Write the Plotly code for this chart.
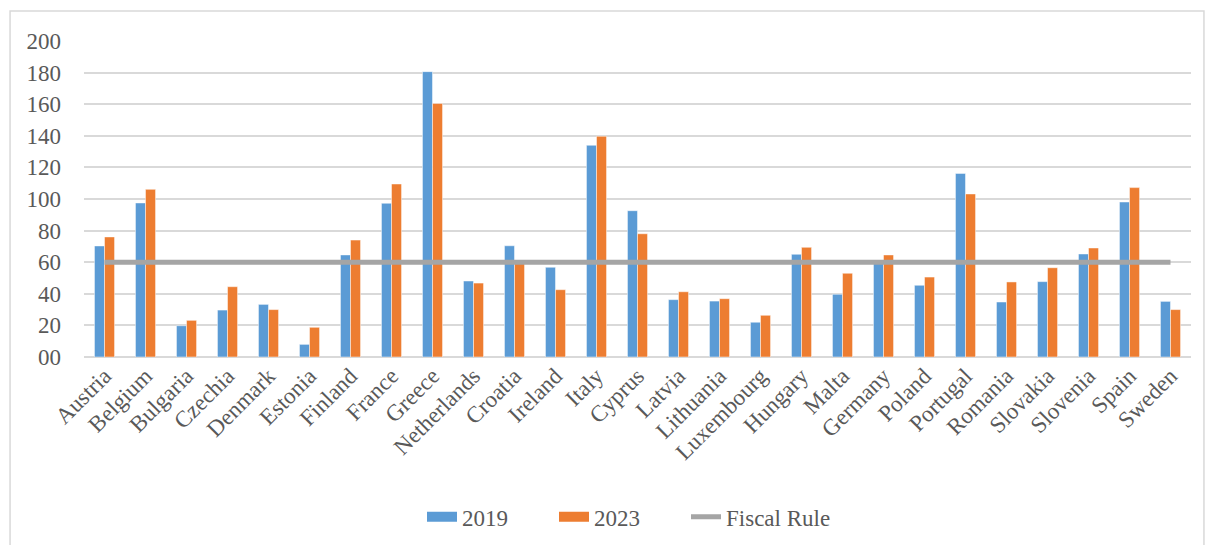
import plotly.graph_objects as go

countries = ["Austria", "Belgium", "Bulgaria", "Czechia", "Denmark", "Estonia", "Finland",
             "France", "Greece", "Netherlands", "Croatia", "Ireland", "Italy", "Cyprus",
             "Latvia", "Lithuania", "Luxembourg", "Hungary", "Malta", "Germany", "Poland",
             "Portugal", "Romania", "Slovakia", "Slovenia", "Spain", "Sweden"]
debt_2019 = [70.3, 97.5, 19.8, 29.7, 33.3, 8.0, 64.6, 97.3, 180.6, 48.1, 70.4, 56.8, 134.0,
             92.6, 36.3, 35.4, 22.0, 65.0, 39.7, 59.6, 45.4, 116.2, 34.8, 47.7, 65.2, 98.1, 35.2]
debt_2023 = [76.0, 106.1, 23.2, 44.5, 30.0, 18.8, 74.0, 109.5, 160.5, 46.8, 61.0, 42.6, 139.7,
             78.0, 41.3, 36.9, 26.4, 69.4, 53.0, 64.6, 50.6, 103.2, 47.5, 56.5, 69.0, 107.2, 30.0]
fiscal_rule = [60] * len(countries)
y_ticks = [0, 20, 40, 60, 80, 100, 120, 140, 160, 180, 200]
y_tick_labels = ["00", "20", "40", "60", "80", "100", "120", "140", "160", "180", "200"]

FONT = "Liberation Serif"
TXT = "#595959"
BLUE, ORANGE, GRAY = "#5B9BD5", "#ED7D31", "#A5A5A5"

fig = go.Figure()
fig.add_trace(go.Bar(x=countries, y=debt_2019, name="2019", marker_color=BLUE,
                     showlegend=False,
                     marker_line=dict(color="rgba(255,255,255,0.6)", width=0.8)))
fig.add_trace(go.Bar(x=countries, y=debt_2023, name="2023", marker_color=ORANGE,
                     showlegend=False,
                     marker_line=dict(color="rgba(255,255,255,0.6)", width=0.8)))
fig.add_trace(go.Scatter(x=countries, y=fiscal_rule, name="Fiscal Rule", mode="lines",
                         showlegend=False, line=dict(color=GRAY, width=5)))
# legend entries (wide swatches like the original), one legend each for exact spacing
fig.add_trace(go.Scatter(x=[None], y=[None], name="2019", mode="lines",
                         line=dict(color=BLUE, width=11), legend="legend"))
fig.add_trace(go.Scatter(x=[None], y=[None], name="2023", mode="lines",
                         line=dict(color=ORANGE, width=11), legend="legend2"))
fig.add_trace(go.Scatter(x=[None], y=[None], name="Fiscal Rule", mode="lines",
                         line=dict(color=GRAY, width=5), legend="legend3"))

def leg(px):
    return dict(orientation="h", x=(px - 84) / 1107, xanchor="left", y=-0.506,
                yanchor="middle", font=dict(family=FONT, size=23, color=TXT),
                bgcolor="rgba(0,0,0,0)")

fig.update_layout(
    width=1206, height=545,
    margin=dict(l=84, r=15, t=41, b=188, autoexpand=False),
    paper_bgcolor="white", plot_bgcolor="white",
    barmode="group", bargap=0.51, bargroupgap=0,
    font=dict(family=FONT, size=23, color=TXT),
    showlegend=True,
    legend=leg(422), legend2=leg(554), legend3=leg(686),
    shapes=[dict(type="rect", xref="paper", yref="paper", x0=-0.0668, x1=1.0117,
                 y0=-0.62, y1=1.095, line=dict(color="#D9D9D9", width=1.5),
                 fillcolor="rgba(0,0,0,0)", layer="below")],
)
fig.update_xaxes(tickangle=-45, showgrid=False, showline=False, ticks="",
                 tickfont=dict(family=FONT, size=23, color=TXT))
fig.update_yaxes(range=[0, 200], tickvals=y_ticks, ticktext=y_tick_labels,
                 showgrid=True, gridcolor="#D9D9D9", gridwidth=1.5,
                 zeroline=True, zerolinecolor="#D9D9D9", zerolinewidth=1.5,
                 showline=False, ticks="", ticklabelstandoff=22,
                 tickfont=dict(family=FONT, size=23, color=TXT))

fig.write_html("out.html", config={"displayModeBar": False},
               post_script="document.body.style.margin='0';document.body.style.overflow='hidden';")
